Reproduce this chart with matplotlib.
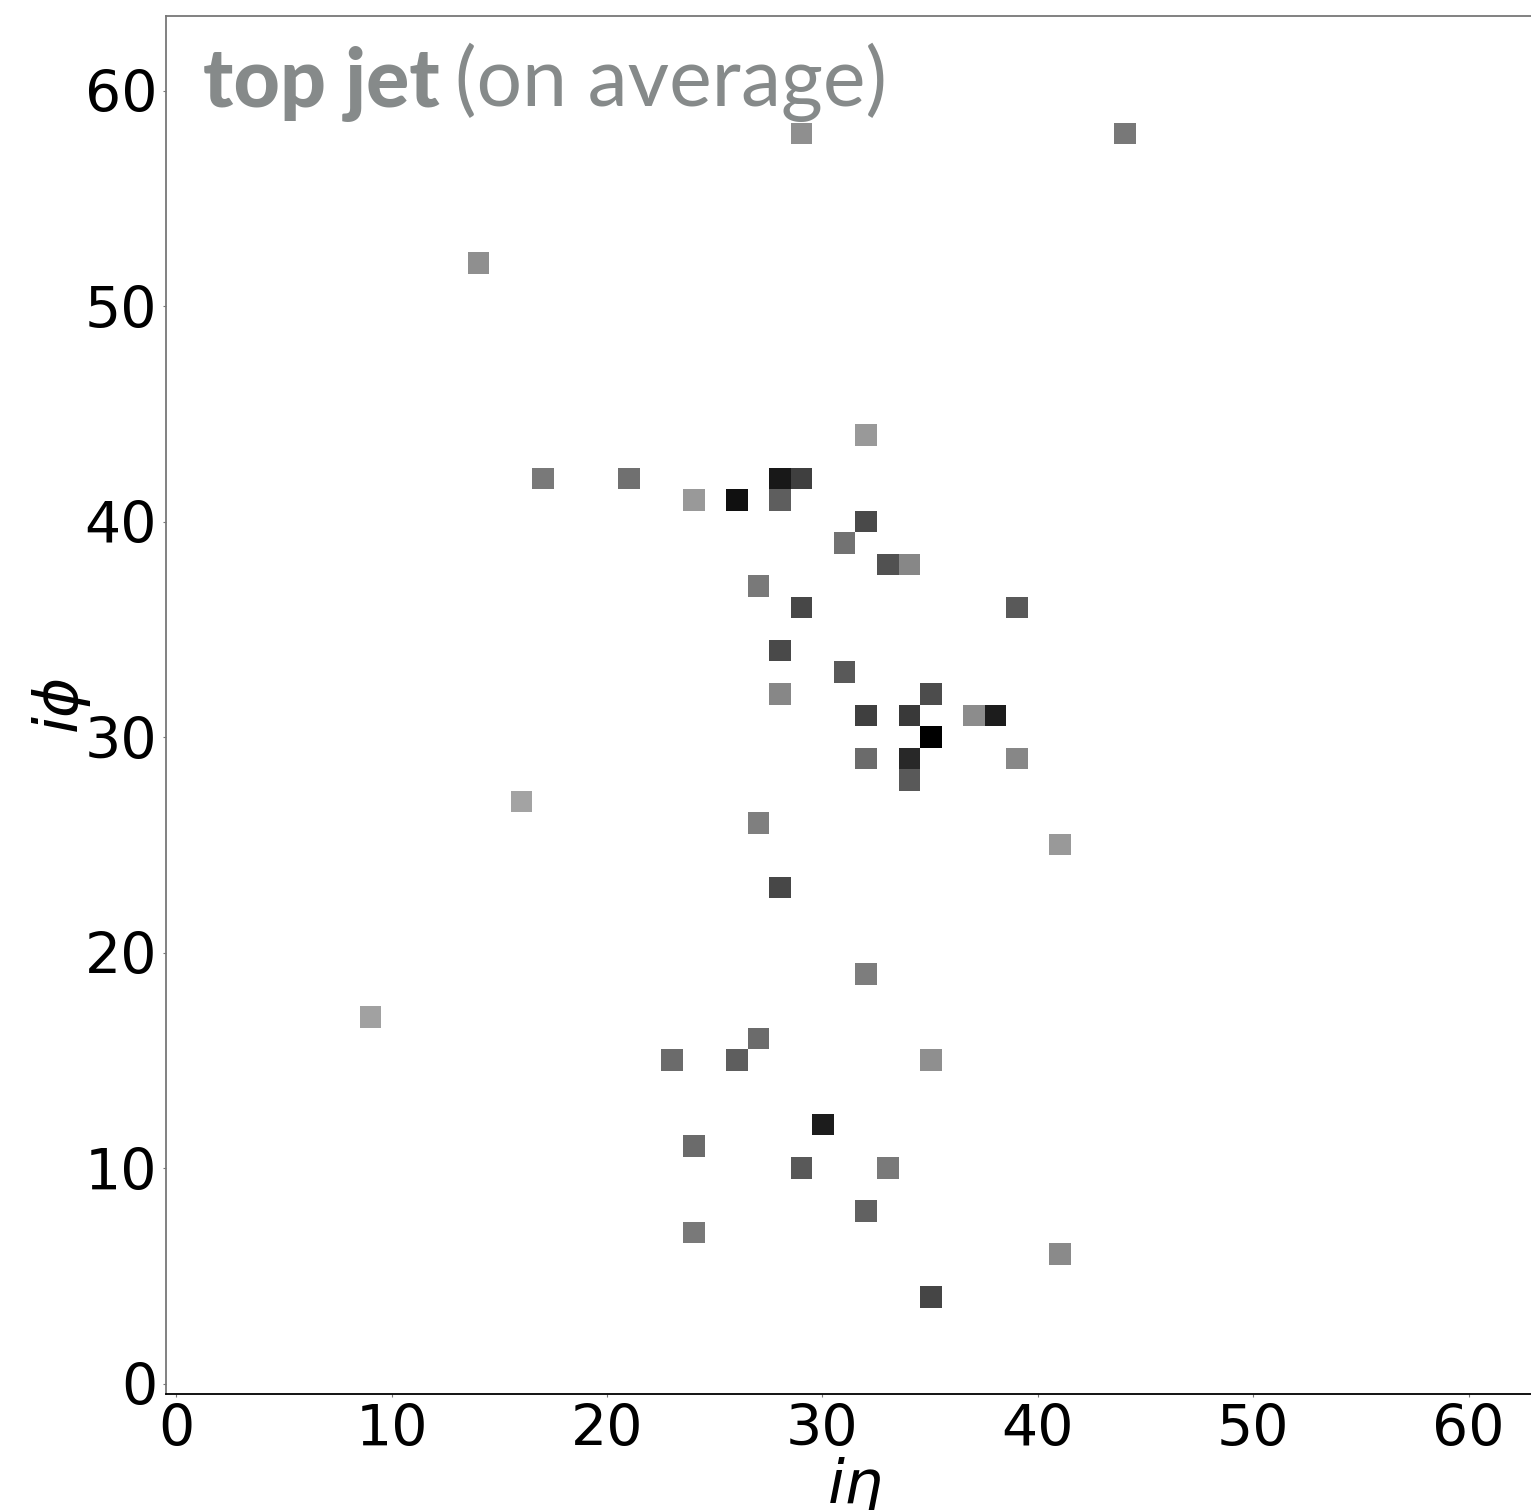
import numpy as np
import matplotlib.pyplot as plt

# non-empty cells of the averaged jet image: (i_eta, i_phi, intensity)
eta = [29, 44, 14, 32, 17, 21, 28, 29, 24, 26, 28, 32, 31, 33, 34, 27, 29, 39,
       28, 31, 28, 35, 32, 34, 37, 38, 35, 32, 34, 39, 34, 16, 27, 41, 28, 32,
       9, 27, 23, 26, 35, 30, 24, 29, 33, 32, 24, 41, 35]
phi = [58, 58, 52, 44, 42, 42, 42, 42, 41, 41, 41, 40, 39, 38, 38, 37, 36, 36,
       34, 33, 32, 32, 31, 31, 31, 31, 30, 29, 29, 29, 28, 27, 26, 25, 23, 19,
       17, 16, 15, 15, 15, 12, 11, 10, 10, 8, 7, 6, 4]
intensity = [0.44, 0.53, 0.44, 0.40, 0.52, 0.56, 0.90, 0.75, 0.40, 0.93, 0.63,
             0.71, 0.55, 0.68, 0.47, 0.52, 0.72, 0.65, 0.71, 0.65, 0.47, 0.70,
             0.75, 0.77, 0.45, 0.89, 1.00, 0.58, 0.84, 0.47, 0.65, 0.36, 0.50,
             0.40, 0.72, 0.51, 0.37, 0.58, 0.58, 0.63, 0.44, 0.89, 0.58, 0.65,
             0.52, 0.62, 0.52, 0.46, 0.73]

n_pix = 64
ticks = [0, 10, 20, 30, 40, 50, 60]

img = np.zeros((n_pix, n_pix))
for e, p, v in zip(eta, phi, intensity):
    img[p, e] = v

fig = plt.figure(figsize=(15.31, 15.10), dpi=100)
ax = fig.add_axes([0.1081, 0.0766, 0.9004, 0.9131])

ax.imshow(img, cmap='gray_r', vmin=0, vmax=1, origin='lower',
          interpolation='nearest', aspect='auto',
          extent=(-0.5, n_pix - 0.5, -0.5, n_pix - 0.5))
ax.set_xlim(-0.5, n_pix - 0.5)
ax.set_ylim(-0.5, n_pix - 0.5)

ax.set_xticks(ticks)
ax.set_yticks(ticks)
ax.tick_params(labelsize=41, length=2, width=0.8, color='#777777', pad=4)

ax.set_xlabel(r'$i\eta$', fontsize=44, labelpad=-2)
ax.set_ylabel(r'$i\phi$', fontsize=44, labelpad=-6)

for side in ['left', 'top']:
    ax.spines[side].set_color('#777777')
    ax.spines[side].set_linewidth(1.3)
ax.spines['bottom'].set_color('black')
ax.spines['bottom'].set_linewidth(1.3)
ax.spines['right'].set_visible(False)

grey = '#868a8a'
t1 = ax.text(0.027, 0.9336, 'top jet', transform=ax.transAxes,
             fontsize=58, fontweight='black', family='Lato', color=grey,
             va='baseline', ha='left')
ax.annotate('(on average)', xy=(1, 0), xycoords=t1, xytext=(11, 0),
            textcoords='offset points', fontsize=58, family='Lato',
            color=grey, va='bottom', ha='left')

fig.savefig('out.png', dpi=100)
